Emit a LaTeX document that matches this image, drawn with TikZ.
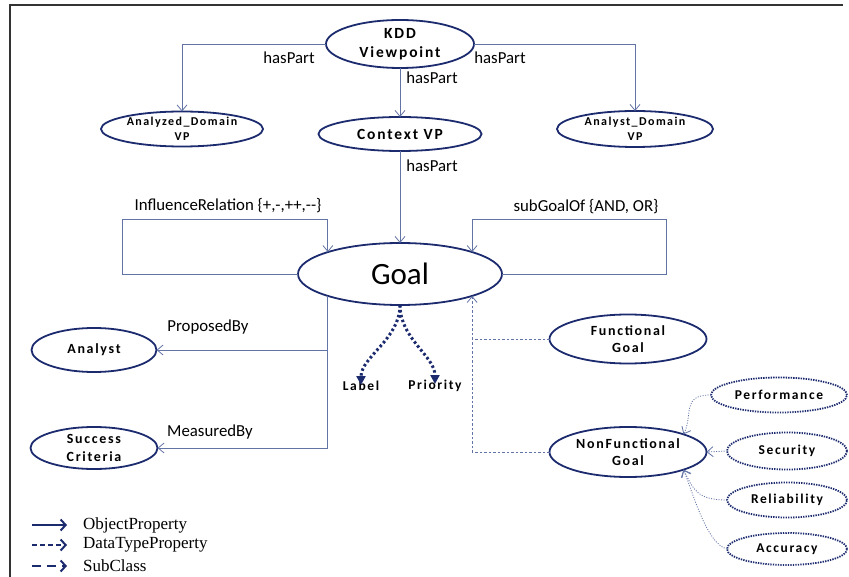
\documentclass[tikz,border=0pt]{standalone}
\usepackage{fontspec}
\setmainfont{Carlito}
\newfontfamily\ellfont[LetterSpace=12]{Carlito}
\newfontfamily\legfont{Liberation Serif}
\usetikzlibrary{shapes.geometric,arrows.meta}
\definecolor{navy}{HTML}{1C2B6E}
\definecolor{linkc}{HTML}{6273A6}
\definecolor{framec}{HTML}{333333}

\begin{document}
\begin{tikzpicture}[x=1pt,y=-1pt,
  ell/.style={ellipse,draw=navy,line width=1.8pt,inner sep=0pt,outer sep=0pt},
  dotell/.style={ell,dash pattern=on 1.4pt off 1.1pt},
  etxt/.style 2 args={font=\ellfont\bfseries\fontsize{#1}{#2}\selectfont,align=center,inner sep=0pt},
  lab/.style={font=\fontsize{16.8}{18}\selectfont,inner sep=0pt},
  conn/.style={draw=linkc,line width=0.8pt,-{Straight Barb[length=6pt,width=10pt]}},
  sub/.style={draw=linkc,line width=0.8pt,dash pattern=on 2.5pt off 2pt},
  dotc/.style={draw=linkc,line width=0.8pt,dash pattern=on 1pt off 1.5pt,-{Straight Barb[length=6pt,width=10pt]}},
  dt/.style={draw=navy,line width=3pt,dash pattern=on 2.5pt off 2.5pt,-{Triangle[length=9pt,width=9pt]}},
  leg/.style={draw=navy,line width=2pt,-{Straight Barb[length=5pt,width=11pt]}},
  legtxt/.style={font=\legfont\fontsize{17}{18}\selectfont,anchor=west,inner sep=0pt}
]
\useasboundingbox (0,0) rectangle (849,577);

% frame
\draw[framec,line width=1.5pt] (10,577) -- (10,5) -- (843,5);

% classes
\node[ell,minimum width=148,minimum height=48,label={[etxt={15.5}{19.5}]center:KDD\\Viewpoint}] (kdd) at (400,44) {};
\node[ell,minimum width=162,minimum height=35,label={[etxt={12}{15}]center:Analyzed\_Domain\\VP}] (adom) at (182,129) {};
\node[ell,minimum width=163,minimum height=34,label={[etxt={15.5}{19.5}]center:Context VP}] (ctx) at (400,134) {};
\node[ell,minimum width=156,minimum height=36,label={[etxt={12}{15}]center:Analyst\_Domain\\VP}] (andom) at (635,129) {};
\node[ell,minimum width=204,minimum height=62,label={[font=\fontsize{31}{31}\selectfont,inner sep=0pt]center:Goal}] (goal) at (400,274) {};
\node[ell,minimum width=125,minimum height=44,label={[etxt={14}{17.5}]center:Analyst}] (analyst) at (94,350) {};
\node[ell,minimum width=127,minimum height=42,label={[etxt={14}{17.5}]center:Success\\Criteria}] (succ) at (94,448) {};
\node[ell,minimum width=157,minimum height=49,label={[etxt={14}{17.5}]center:Functional\\Goal}] (func) at (628,339) {};
\node[ell,minimum width=157,minimum height=50,label={[etxt={14}{17.5}]center:NonFunctional\\Goal}] (nfg) at (628,452) {};
\node[dotell,minimum width=136,minimum height=35,label={[etxt={13.5}{17}]center:Performance}] (perf) at (779,395) {};
\node[dotell,minimum width=120,minimum height=37,label={[etxt={13.5}{17}]center:Security}] (sec) at (787,451) {};
\node[dotell,minimum width=120,minimum height=35,label={[etxt={13.5}{17}]center:Reliability}] (rel) at (787,500) {};
\node[dotell,minimum width=120,minimum height=32,label={[etxt={13.5}{17}]center:Accuracy}] (acc) at (787,549) {};

% datatype values
\node[etxt={13.5}{17}] (lbl) at (361,386) {Label};
\node[etxt={13.5}{17}] (prio) at (435,386) {Priority};

% hasPart hierarchy
\draw[conn] (kdd.west) -| (adom.north);
\draw[conn] (kdd.east) -| (andom.north);
\draw[conn] (kdd.south) -- (ctx.north);
\draw[conn] (ctx.south) -- (goal.north);
\node[lab] (hp1) at (289,58) {hasPart};
\node[lab] (hp2) at (432,78) {hasPart};
\node[lab] (hp3) at (500,58) {hasPart};
\node[lab] (hp4) at (432,166) {hasPart};

% self relations on Goal
\coordinate (infl) at (122,219);
\coordinate (subg) at (666,219);
\draw[conn] (goal.west) -| (infl) -| (goal.north west);
\draw[conn] (goal.east) -| (subg) -| (goal.north east);
\node[lab] (ir) at (228,206) {InfluenceRelation \{+,-,++,-\kern0pt-\}};
\node[lab] (sg) at (586,207) {subGoalOf \{AND, OR\}};

% Goal to Analyst / Success Criteria
\draw[conn] (goal.south west) |- (analyst.east);
\draw[conn] (goal.south west) |- (succ.east);
\node[lab] (pb) at (208,327) {ProposedBy};
\node[lab] (mb) at (210,432) {MeasuredBy};

% datatype properties
\draw[dt] (goal.south) .. controls +(0,34) and +(0,-28) .. ([yshift=-4pt]lbl.north);
\draw[dt] (goal.south) .. controls +(0,34) and +(0,-28) .. ([yshift=-4pt]prio.north);

% subclasses of Goal
\draw[sub] (nfg.west) -| (func.west -| goal.south east);
\draw[sub,-{Straight Barb[length=6pt,width=10pt]}] (func.west) -| (goal.south east);

% subclasses of NonFunctional Goal
\draw[dotc] (perf.west) .. controls +(-30,0) and +(10,-20) .. (nfg.north east);
\draw[dotc] (sec.west) -- (nfg.east);
\draw[dotc] (rel.west) .. controls +(-30,0) and +(10,20) .. (nfg.south east);
\draw[dotc] (acc.west) .. controls +(-20,-5) and +(10,25) .. (nfg.south east);

% legend
\coordinate (l1a) at (32,525); \coordinate (l1b) at (67,525);
\coordinate (l2a) at (32,545); \coordinate (l2b) at (67,545);
\coordinate (l3a) at (32,566); \coordinate (l3b) at (67,566);
\draw[leg] (l1a) -- (l1b);
\draw[leg,dash pattern=on 5pt off 3pt] (l2a) -- (l2b);
\draw[leg,dash pattern=on 9pt off 6pt] (l3a) -- (l3b);
\node[legtxt] (t1) at (83,525) {ObjectProperty};
\node[legtxt] (t2) at (83,545) {DataTypeProperty};
\node[legtxt] (t3) at (83,566) {SubClass};
\end{tikzpicture}
\end{document}
